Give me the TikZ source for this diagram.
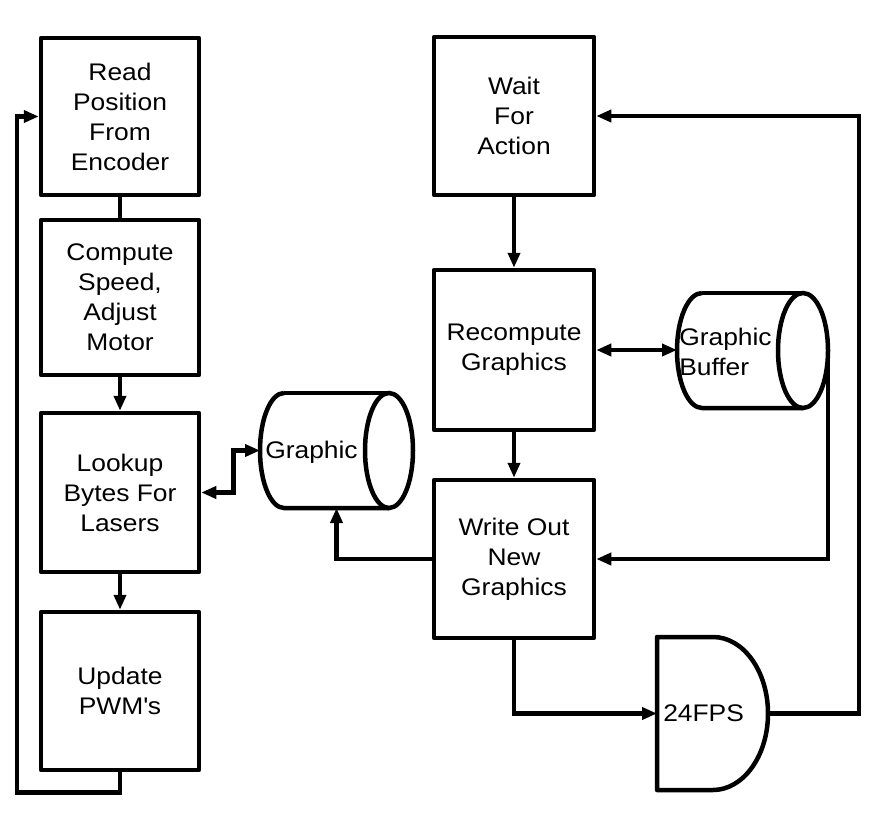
\documentclass[tikz,border=0pt]{standalone}
\usepackage{fontspec}
\setmainfont{Liberation Sans}[FakeStretch=1.1]
\usetikzlibrary{arrows.meta}
\begin{document}
\begin{tikzpicture}[x=1pt,y=-1pt,line width=4.5pt,
  txt/.style={font=\fontsize{24pt}{30pt}\selectfont},
  box/.style={draw,rectangle,line join=round,inner sep=0pt,align=center,txt,minimum width=158pt},
  ghost/.style={rectangle,inner sep=0pt,outer sep=0pt},
  lbl/.style={inner sep=0pt,align=left,txt},
  arr/.style={-{Triangle[length=15pt,width=12pt]}},
  dbl/.style={{Triangle[length=15pt,width=12pt]}-{Triangle[length=15pt,width=12pt]}}]
\useasboundingbox (0,0) rectangle (889,819);
% left column
\node[box,minimum height=157pt] (read) at (120,116.5) {Read\\Position\\From\\Encoder};
\node[box,minimum height=155pt] (comp) at (120,297.5) {Compute\\Speed,\\Adjust\\Motor};
\node[box,minimum height=159pt] (look) at (120,492.5) {Lookup\\Bytes For\\Lasers};
\node[box,minimum height=158pt] (upd) at (120,691) {Update\\PWM\textquotesingle s};
% right column
\node[box,minimum width=160pt,minimum height=158pt] (wait) at (514,116) {Wait\\For\\Action};
\node[box,minimum width=160pt,minimum height=160pt] (rc) at (514,350) {Recompute\\Graphics};
\node[box,minimum width=160pt,minimum height=158pt] (wr) at (514,559) {Write Out\\New\\Graphics};
% Graphic cylinder
\node[ghost,minimum width=153pt,minimum height=115pt] (gr) at (336.5,450.5) {};
\draw ([xshift=24pt]gr.north west) arc[start angle=90,end angle=270,x radius=24pt,y radius=57.5pt]
  -- ([xshift=-24pt]gr.south east);
\draw ([xshift=24pt]gr.north west) -- ([xshift=-24pt]gr.north east);
\draw ([xshift=-24pt]gr.east) ellipse[x radius=24pt,y radius=57.5pt];
\node[lbl,anchor=base west] (grl) at (263,458) {Graphic};
% Graphic Buffer cylinder
\node[ghost,minimum width=151pt,minimum height=115pt] (buf) at (752.5,350.5) {};
\draw ([xshift=25pt]buf.north west) arc[start angle=90,end angle=270,x radius=25pt,y radius=57.5pt]
  -- ([xshift=-25pt]buf.south east);
\draw ([xshift=25pt]buf.north west) -- ([xshift=-25pt]buf.north east);
\draw ([xshift=-25pt]buf.east) ellipse[x radius=25pt,y radius=57.5pt];
\node[lbl,anchor=west] (bufl) at (677,352) {Graphic\\Buffer};
% 24FPS delay shape
\node[ghost,minimum width=111pt,minimum height=153pt] (fps) at (712.5,713.5) {};
\draw[line join=round] (fps.north west) -- ([xshift=56pt]fps.north west)
  arc[start angle=90,end angle=-90,x radius=55pt,y radius=76.5pt]
  -- (fps.south west) -- cycle;
\node[lbl,anchor=west] (fpsl) at (661,713) {24FPS};
% connectors left
\draw (read.south) -- (comp.north);
\draw[arr] (comp.south) -- (look.north);
\draw[arr] (look.south) -- (upd.north);
\draw[arr] (upd.south) -- ++(0,20) -| ([xshift=-22pt]read.west) -- (read.west);
\draw[dbl] (look.east) -- ++(32,0) |- (gr.west);
\draw[arr] (wr.west) -| (gr.south);
% connectors right
\draw[arr] (wait.south) -- (rc.north);
\draw[arr] (rc.south) -- (wr.north);
\draw[dbl] (rc.east) -- (rc.east -| buf.west);
\draw[arr] (buf.east) |- (wr.east);
\draw[arr] (wr.south) |- (fps.west);
\draw[arr] (fps.east) -- ++(91,0) |- (wait.east);
\end{tikzpicture}
\end{document}
